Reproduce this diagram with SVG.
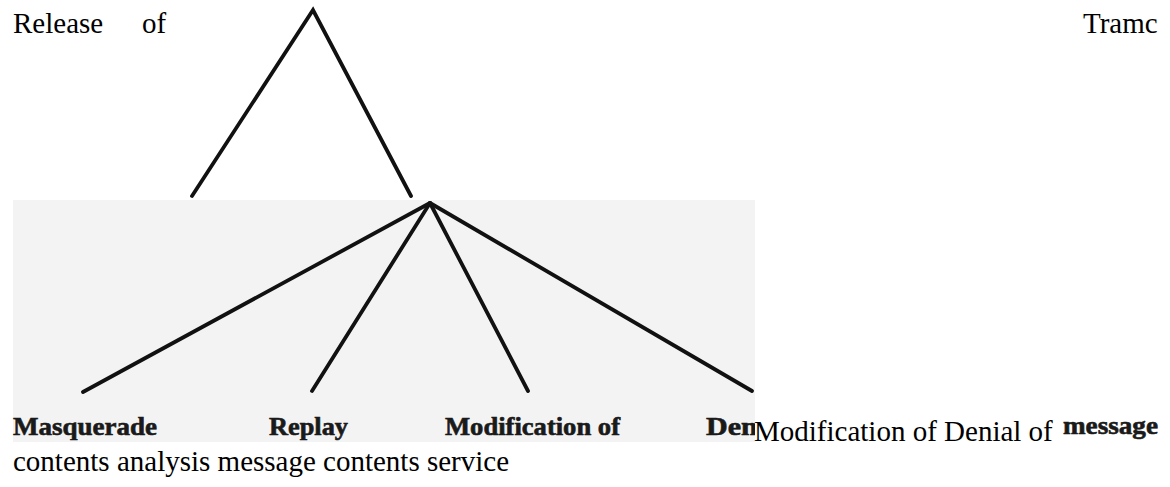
<svg xmlns="http://www.w3.org/2000/svg" width="1170" height="487" viewBox="0 0 1170 487">
  <style>
    .body { font-family: "Liberation Serif", "Times New Roman", "DejaVu Serif", serif; font-size: 29px; fill: #000; }
    .lbl { font-family: "Liberation Serif", "Times New Roman", "DejaVu Serif", serif; font-size: 25px; font-weight: bold; fill: #1a1a1a; stroke: #1a1a1a; stroke-width: 0.6; }
    .edge { stroke: #111; stroke-width: 3.8; stroke-linecap: round; fill: none; }
  </style>
  <defs>
    <clipPath id="scanClip">
      <rect x="13" y="200" width="742" height="242"/>
    </clipPath>
  </defs>
  <rect x="0" y="0" width="1170" height="487" fill="#ffffff"/>
  <rect id="scan-bg" x="13" y="200" width="742" height="242" fill="#f3f3f3"/>

  <g id="connectors">
    <polyline class="edge" points="192,196 313,10 411,196" stroke-linejoin="miter"/>
    <line class="edge" x1="430" y1="203" x2="83" y2="392"/>
    <line class="edge" x1="430" y1="203" x2="312" y2="391"/>
    <line class="edge" x1="430" y1="203" x2="528" y2="391"/>
    <line class="edge" x1="430" y1="203" x2="752" y2="391"/>
  </g>

  <g id="node-masquerade"><text class="lbl" x="13" y="435" textLength="144" lengthAdjust="spacingAndGlyphs">Masquerade</text></g>
  <g id="node-replay"><text class="lbl" x="269" y="435" textLength="79" lengthAdjust="spacingAndGlyphs">Replay</text></g>
  <g id="node-modification"><text class="lbl" x="445" y="435" textLength="175" lengthAdjust="spacingAndGlyphs">Modification of</text></g>
  <g id="node-denial" clip-path="url(#scanClip)"><text class="lbl" x="706" y="435" textLength="60" lengthAdjust="spacingAndGlyphs">Deni</text></g>
  <g id="node-message"><text class="lbl" x="1063" y="434" textLength="95" lengthAdjust="spacingAndGlyphs">message</text></g>

  <g id="text-top">
    <text class="body" x="13" y="33">Release</text>
    <text class="body" x="142" y="33">of</text>
    <text class="body" x="1083" y="33">Tramc</text>
  </g>
  <g id="text-mid">
    <text class="body" x="754" y="441">Modification of Denial of</text>
  </g>
  <g id="text-bottom">
    <text class="body" x="13" y="471">contents analysis message contents service</text>
  </g>
</svg>
